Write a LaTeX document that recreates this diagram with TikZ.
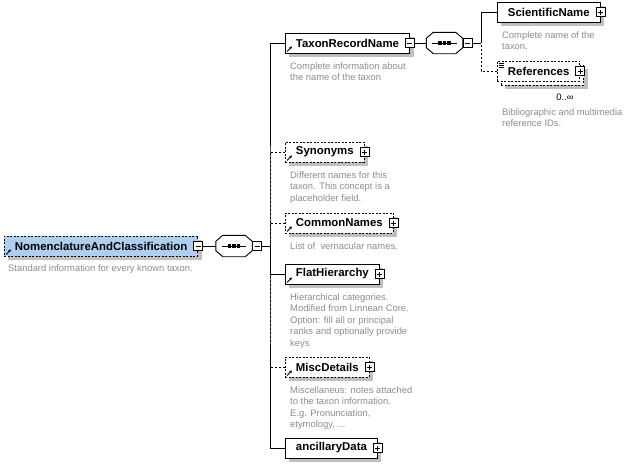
\documentclass[tikz,border=0pt]{standalone}
\usepackage{fontspec}
\setmainfont{Liberation Sans}
\usetikzlibrary{arrows.meta,shadows}
\definecolor{rootblue}{RGB}{176,206,240}
\definecolor{shadowgray}{RGB}{192,192,192}
\definecolor{descgray}{RGB}{140,140,140}
\newcommand{\elemfont}{\fontsize{11.4}{13}\selectfont\bfseries}
\newcommand{\descfont}{\fontsize{9.4}{11.4}\selectfont}

\begin{document}
\begin{tikzpicture}[x=1pt,y=-1pt,
  elem/.style     = {draw, fill=white, line width=0.9pt, font=\elemfont,
                     inner xsep=10.5pt, inner ysep=0pt, minimum height=20pt,
                     anchor=west, boxshadow},
  optelem/.style  = {elem, dash pattern=on 2pt off 1.5pt},
  boxshadow/.style= {general shadow={fill=shadowgray, shadow xshift=4pt, shadow yshift=-4pt}},
  desc/.style     = {anchor=north west, align=left, inner sep=0pt,
                     font=\descfont, text=descgray},
  btn/.style      = {draw, fill=white, line width=0.8pt, minimum size=9pt, inner sep=0pt},
  minusbtn/.style = {btn, path picture={
                       \draw ([xshift=2pt]path picture bounding box.west)
                          -- ([xshift=-2pt]path picture bounding box.east);}},
  plusbtn/.style  = {btn, path picture={
                       \draw ([xshift=2pt]path picture bounding box.west)
                          -- ([xshift=-2pt]path picture bounding box.east);
                       \draw ([yshift=-2pt]path picture bounding box.north)
                          -- ([yshift=2pt]path picture bounding box.south);}},
  seq/.style      = {minimum width=36pt, minimum height=21pt, inner sep=0pt},
  link/.style     = {line width=0.9pt},
  optlink/.style  = {link, dash pattern=on 2pt off 2pt},
  refarrow/.style = {line width=0.9pt, -{Stealth[length=3pt,width=3pt]}}]

\useasboundingbox (0,0) rectangle (626,467);

% root element and its sequence
\node[optelem, fill=rootblue] (root) at (4,246) {NomenclatureAndClassification};
\node[minusbtn] (root-b) at (root.east) {};
\node[desc] (root-d) at ([shift={(4pt,-8pt)}]root.south west)
  {Standard information for every known taxon.};

\node[seq] (seqA) at (234,246) {};
\node[minusbtn, anchor=west] (seqA-b) at (seqA.east) {};
\coordinate (jA) at (270,246);

% children of the sequence
\node[elem] (trn) at (285,43) {TaxonRecordName};
\node[minusbtn] (trn-b) at (trn.east) {};
\node[desc] (trn-d) at ([shift={(5pt,-9pt)}]trn.south west)
  {Complete information about\\the name of the taxon};

\node[optelem] (syn) at (285,152) {Synonyms};
\node[plusbtn] (syn-b) at (syn.east) {};
\node[desc] (syn-d) at ([shift={(5pt,-9pt)}]syn.south west)
  {Different names for this\\taxon. This concept is a\\placeholder field.};

\node[optelem] (com) at (285,223) {CommonNames};
\node[plusbtn] (com-b) at (com.east) {};
\node[desc] (com-d) at ([shift={(5pt,-9pt)}]com.south west)
  {List of~ vernacular names.};

\node[elem] (flat) at (285,274) {FlatHierarchy};
\node[plusbtn] (flat-b) at (flat.east) {};
\node[desc] (flat-d) at ([shift={(5pt,-9pt)}]flat.south west)
  {Hierarchical categories.\\Modified from Linnean Core.\\Option: fill all or principal\\ranks and optionally provide\\keys};

\node[optelem] (misc) at (285,367) {MiscDetails};
\node[plusbtn] (misc-b) at (misc.east) {};
\node[desc] (misc-d) at ([shift={(5pt,-9pt)}]misc.south west)
  {Miscellaneus: notes attached\\to the taxon information.\\E.g. Pronunciation,\\etymology, ...};

\node[elem] (anc) at (285,448) {ancillaryData};
\node[plusbtn] (anc-b) at (anc.east) {};

% sequence of TaxonRecordName
\node[seq] (seqB) at (444.5,43) {};
\node[minusbtn, anchor=west] (seqB-b) at (seqB.east) {};
\coordinate (jB) at (481,43);

\node[elem] (sci) at (497,12) {ScientificName};
\node[plusbtn] (sci-b) at (sci.east) {};
\node[desc] (sci-d) at ([shift={(5pt,-9pt)}]sci.south west)
  {Complete name of the\\taxon.};

\node[optelem, general shadow={fill=shadowgray, shadow xshift=8pt, shadow yshift=-8pt},
  copy shadow={shadow xshift=4pt, shadow yshift=-4pt}] (ref) at (497,71) {References};
\node[plusbtn] (ref-b) at (ref.east) {};
\node[font=\descfont] (ref-m) at (565,97) {0..∞};
\node[desc] (ref-d) at (502,108) {Bibliographic and multimedia\\reference IDs.};

% connectors
\draw[link] (root-b) -- (seqA);
\draw[link] (seqA-b) -- (jA);
\draw[link] (trn.west) -| (jA) |- (anc.west);
\draw[link] (flat.west) -| (jA);
\draw[optlink] (syn.west) -| (jA);
\draw[optlink] (com.west) -| (jA);
\draw[optlink] (misc.west) -| (jA);
\draw[link] (trn-b) -- (seqB);
\draw[link] (seqB-b) -- (jB);
\draw[link] (sci.west) -| (jB);
\draw[optlink] (ref.west) -| (jB);

% sequence symbols
\foreach \s in {seqA,seqB} {
  \fill[shadowgray, shift={(4pt,-4pt)}]
    ([xshift=7pt]\s.north west) -- ([xshift=-7pt]\s.north east)
    -- ([yshift=-6pt]\s.north east) -- ([yshift=6pt]\s.south east)
    -- ([xshift=-7pt]\s.south east) -- ([xshift=7pt]\s.south west)
    -- ([yshift=6pt]\s.south west) -- ([yshift=-6pt]\s.north west) -- cycle;
  \draw[link, fill=white]
    ([xshift=7pt]\s.north west) -- ([xshift=-7pt]\s.north east)
    -- ([yshift=-6pt]\s.north east) -- ([yshift=6pt]\s.south east)
    -- ([xshift=-7pt]\s.south east) -- ([xshift=7pt]\s.south west)
    -- ([yshift=6pt]\s.south west) -- ([yshift=-6pt]\s.north west) -- cycle;
  \draw[link] ([xshift=6pt]\s.west) -- ([xshift=-6pt]\s.east);
  \foreach \d in {-4.5,0,4.5}
    \fill ([xshift=\d pt]\s.center) +(-1.6,-1.6) rectangle +(1.6,1.6);
}

% reference arrows
\foreach \n in {root,trn,syn,com,flat,misc}
  \draw[refarrow] ([shift={(2pt,2pt)}]\n.south west) -- ++(5,-5);

% repeat marks of References
\foreach \k in {3,5,7}
  \draw[line width=0.6pt] ([shift={(2pt,-\k pt)}]ref.north west) -- ++(5,0);

\end{tikzpicture}
\end{document}
